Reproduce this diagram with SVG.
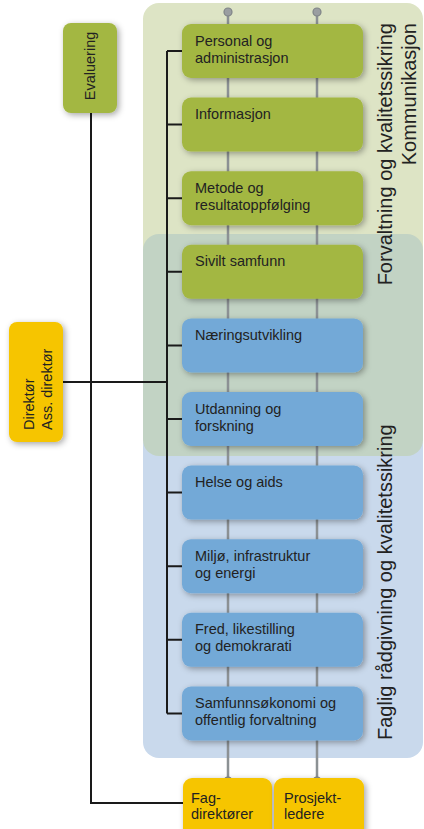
<svg xmlns="http://www.w3.org/2000/svg" width="424" height="829" viewBox="0 0 424 829">
<defs>
<filter id="sh" x="-30%" y="-30%" width="160%" height="160%">
<feDropShadow dx="2" dy="2" stdDeviation="3" flood-color="#000" flood-opacity="0.35"/>
</filter>
<style>
text{font-family:"Liberation Sans",Arial,sans-serif;fill:#222;}
.t{font-size:14.5px;}
.side{font-size:20px;}
.green{fill:#a3b742;}
.blue{fill:#73a9d7;}
.yellow{fill:#f6c500;}
.gl{stroke:#8c9194;stroke-width:2.5;fill:none;}
.bl{stroke:#1a1a1a;stroke-width:2;fill:none;}
.dot{fill:#9a9ea1;stroke:#7f8487;stroke-width:1.2;}
</style>
</defs>

<g id="panels">
<rect x="143" y="3" width="280" height="260" rx="16" fill="#dde4c5"/>
<rect x="143" y="430" width="280" height="328" rx="16" fill="#c9d9ec"/>
<rect x="143" y="234" width="280" height="222" rx="16" fill="#c2d3c4"/>
<text class="side" transform="translate(392,23) rotate(-90)" text-anchor="end">Forvaltning og kvalitetssikring</text>
<text class="side" transform="translate(416,23) rotate(-90)" text-anchor="end">Kommunikasjon</text>
<text class="side" transform="translate(392,740) rotate(-90)">Faglig rådgivning og kvalitetssikring</text>
</g>

<g id="connectors">
<line class="gl" x1="228" y1="12" x2="228" y2="781"/>
<line class="gl" x1="317" y1="12" x2="317" y2="781"/>
<circle class="dot" cx="228" cy="12" r="4"/>
<circle class="dot" cx="317" cy="12" r="4"/>
<circle class="dot" cx="228" cy="781" r="4"/>
<circle class="dot" cx="317" cy="781" r="4"/>
<path class="bl" d="M167,51 V713.4 M167,51 H182 M167,124.6 H182 M167,198.2 H182 M167,271.8 H182 M167,345.4 H182 M167,419 H182 M167,492.6 H182 M167,566.2 H182 M167,639.8 H182 M167,713.4 H182"/>
<path class="bl" d="M63,382 H167"/>
<path class="bl" d="M91,113 V803 H183"/>
</g>

<g id="evaluering">
<rect class="green" x="63" y="23" width="54" height="90" rx="8" filter="url(#sh)"/>
<text class="t" transform="translate(95,66) rotate(-90)" text-anchor="middle">Evaluering</text>
</g>

<g id="direktor">
<rect class="yellow" x="9" y="322" width="54" height="120" rx="8" filter="url(#sh)"/>
<text class="t" transform="translate(34,430) rotate(-90)">Direktør</text>
<text class="t" transform="translate(51.5,430) rotate(-90)">Ass. direktør</text>
</g>

<g id="personal">
<rect class="green" x="182" y="24" width="181" height="54" rx="9" filter="url(#sh)"/>
<text class="t" x="195" y="46">Personal og</text>
<text class="t" x="195" y="63">administrasjon</text>
</g>
<g id="informasjon">
<rect class="green" x="182" y="97.6" width="181" height="54" rx="9" filter="url(#sh)"/>
<text class="t" x="195" y="118.6">Informasjon</text>
</g>
<g id="metode">
<rect class="green" x="182" y="171.2" width="181" height="54" rx="9" filter="url(#sh)"/>
<text class="t" x="195" y="193">Metode og</text>
<text class="t" x="195" y="210">resultatoppfølging</text>
</g>
<g id="sivilt">
<rect class="green" x="182" y="244.8" width="181" height="54" rx="9" filter="url(#sh)"/>
<text class="t" x="195" y="266">Sivilt samfunn</text>
</g>
<g id="naering">
<rect class="blue" x="182" y="318.4" width="181" height="54" rx="9" filter="url(#sh)"/>
<text class="t" x="195" y="339.5">Næringsutvikling</text>
</g>
<g id="utdanning">
<rect class="blue" x="182" y="392" width="181" height="54" rx="9" filter="url(#sh)"/>
<text class="t" x="195" y="413.5">Utdanning og</text>
<text class="t" x="195" y="430.5">forskning</text>
</g>
<g id="helse">
<rect class="blue" x="182" y="465.6" width="181" height="54" rx="9" filter="url(#sh)"/>
<text class="t" x="195" y="487">Helse og aids</text>
</g>
<g id="miljo">
<rect class="blue" x="182" y="539.2" width="181" height="54" rx="9" filter="url(#sh)"/>
<text class="t" x="195" y="560.5">Miljø, infrastruktur</text>
<text class="t" x="195" y="577.5">og energi</text>
</g>
<g id="fred">
<rect class="blue" x="182" y="612.8" width="181" height="54" rx="9" filter="url(#sh)"/>
<text class="t" x="195" y="634">Fred, likestilling</text>
<text class="t" x="195" y="651">og demokrarati</text>
</g>
<g id="samfunn">
<rect class="blue" x="182" y="686.4" width="181" height="54" rx="9" filter="url(#sh)"/>
<text class="t" x="195" y="708">Samfunnsøkonomi og</text>
<text class="t" x="195" y="725">offentlig forvaltning</text>
</g>

<g id="fagdirektorer">
<rect class="yellow" x="183" y="778" width="89" height="70" rx="9" filter="url(#sh)"/>
<text class="t" x="191" y="803">Fag-</text>
<text class="t" x="191" y="819">direktører</text>
</g>
<g id="prosjektledere">
<rect class="yellow" x="274" y="778" width="90" height="70" rx="9" filter="url(#sh)"/>
<text class="t" x="284" y="803">Prosjekt-</text>
<text class="t" x="284" y="819">ledere</text>
</g>
</svg>
